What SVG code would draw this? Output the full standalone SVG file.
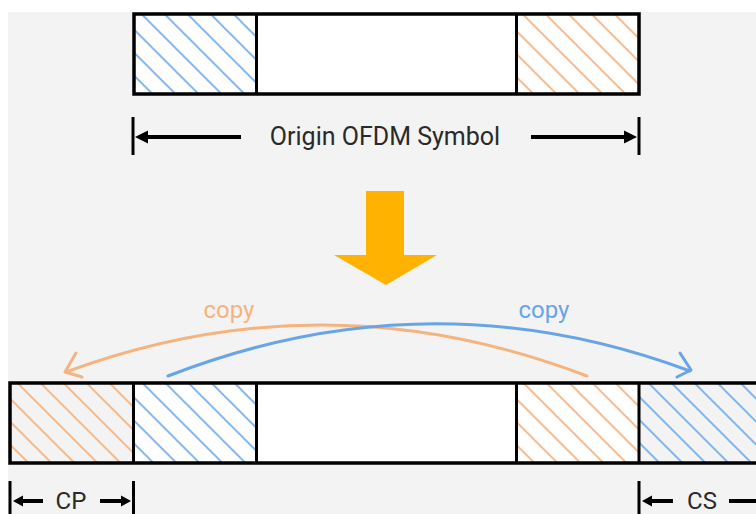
<svg xmlns="http://www.w3.org/2000/svg" width="756" height="514" viewBox="0 0 756 514">
<defs>
<pattern id="hb" patternUnits="userSpaceOnUse" x="12.5" y="0" width="23" height="23">
<path d="M-2,-2 L25,25 M-25,-2 L2,25 M21,-2 L48,25" stroke="#6eaaea" stroke-width="1.6" fill="none"/>
</pattern>
<pattern id="ho" patternUnits="userSpaceOnUse" x="2.5" y="0" width="23" height="23">
<path d="M-2,-2 L25,25 M-25,-2 L2,25 M21,-2 L48,25" stroke="#f4b07a" stroke-width="1.6" fill="none"/>
</pattern>
<style>
.box{fill:none;stroke:#000;stroke-width:3.5}
.div{stroke:#000;stroke-width:3}
.dim{stroke:#000;stroke-width:4;fill:none}
.tick{stroke:#000;stroke-width:3}
.head{fill:#000}
.lbl{font-family:Roboto,"Liberation Sans",sans-serif;font-size:25px;fill:#2a2a2a;text-anchor:middle}
.sm{font-size:24px}
.copy{font-family:Roboto,"Liberation Sans",sans-serif;font-size:24px;text-anchor:middle}
.arcO{fill:none;stroke:#f5b47e;stroke-width:3;stroke-linecap:round;stroke-linejoin:round}
.arcB{fill:none;stroke:#68a5e6;stroke-width:3;stroke-linecap:round;stroke-linejoin:round}
</style>
</defs>
<rect x="0" y="0" width="756" height="514" fill="#ffffff"/>
<rect x="8" y="12" width="748" height="502" fill="#f3f3f3"/>

<g id="origin-symbol">
<rect x="134" y="14" width="505" height="80" fill="#ffffff"/>
<rect x="134" y="14" width="122" height="80" fill="url(#hb)"/>
<rect x="516" y="14" width="123" height="80" fill="url(#ho)"/>
<line class="div" x1="256.5" y1="14" x2="256.5" y2="94"/>
<line class="div" x1="516.5" y1="14" x2="516.5" y2="94"/>
<rect class="box" x="134" y="14" width="505" height="80"/>
</g>

<g id="origin-dimension">
<line class="tick" x1="133" y1="117" x2="133" y2="155"/>
<line class="tick" x1="639" y1="117" x2="639" y2="155"/>
<line class="dim" x1="144" y1="137" x2="241" y2="137"/>
<polygon class="head" points="135,137 148,130.5 148,143.5"/>
<line class="dim" x1="531" y1="137" x2="628" y2="137"/>
<polygon class="head" points="637,137 624,130.5 624,143.5"/>
<text class="lbl" x="385" y="145">Origin OFDM Symbol</text>
</g>

<g id="big-arrow">
<polygon points="366,191 404,191 404,255 437,255 386,285 334,255 366,255" fill="#ffb300"/>
</g>

<g id="extended-symbol">
<rect x="133" y="383" width="383" height="80" fill="#ffffff"/>
<rect x="516" y="383" width="123" height="80" fill="#ffffff"/>
<rect x="10" y="383" width="123" height="80" fill="url(#ho)"/>
<rect x="133" y="383" width="123" height="80" fill="url(#hb)"/>
<rect x="516" y="383" width="123" height="80" fill="url(#ho)"/>
<rect x="639" y="383" width="123" height="80" fill="url(#hb)"/>
<line class="div" x1="133.5" y1="383" x2="133.5" y2="463"/>
<line class="div" x1="256.5" y1="383" x2="256.5" y2="463"/>
<line class="div" x1="516.5" y1="383" x2="516.5" y2="463"/>
<line class="div" x1="639" y1="383" x2="639" y2="463"/>
<rect class="box" x="10" y="383" width="760" height="80"/>
</g>

<g id="connectors">
<path class="arcO" d="M587,376 Q326,276 66,372"/>
<path class="arcO" d="M76,353 L65,372 L82,377"/>
<path class="arcB" d="M168,376 Q430,274 690,371"/>
<path class="arcB" d="M680,353 L691,370 L677,377"/>
</g>
<text class="copy" x="229" y="318" fill="#f5b47e">copy</text>
<text class="copy" x="544" y="318" fill="#68a5e6">copy</text>

<g id="cp-dimension">
<line class="tick" x1="10" y1="481" x2="10" y2="514"/>
<line class="tick" x1="133.5" y1="481" x2="133.5" y2="514"/>
<line class="dim" x1="20" y1="501" x2="43" y2="501"/>
<polygon class="head" points="13,501 23,495.5 23,506.5"/>
<line class="dim" x1="100" y1="501" x2="123" y2="501"/>
<polygon class="head" points="131,501 121,495.5 121,506.5"/>
<text class="lbl sm" x="71" y="508.5">CP</text>
</g>

<g id="cs-dimension">
<line class="tick" x1="639" y1="481" x2="639" y2="514"/>
<line class="dim" x1="650" y1="501" x2="673" y2="501"/>
<polygon class="head" points="642,501 652,495.5 652,506.5"/>
<line class="dim" x1="729" y1="501" x2="760" y2="501"/>
<text class="lbl sm" x="702" y="508.5">CS</text>
</g>
</svg>
